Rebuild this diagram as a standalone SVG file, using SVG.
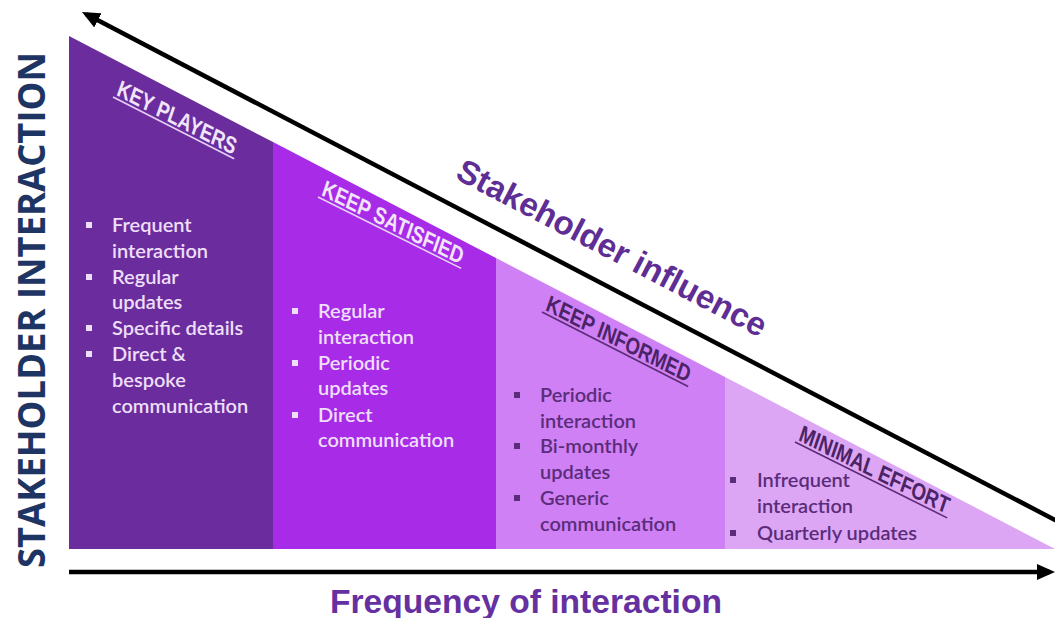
<svg xmlns="http://www.w3.org/2000/svg" width="1055" height="618" viewBox="0 0 1055 618">
  <style>
    .item { font-family: Lato, "Open Sans", "Liberation Sans", sans-serif; font-size: 20px; font-weight: 600; }
    .light { fill: #EEDFF9; }
    .dark { fill: #5A2C7A; }
    .lbl { font-family: "Liberation Sans", Arial, sans-serif; font-size: 23px; font-weight: bold; }
    .ul-light { stroke: #E6CFF5; stroke-width: 1.6; }
    .ul-dark { stroke: #5A2C78; stroke-width: 1.6; }
    .axis { stroke: #000; stroke-width: 4.5; fill: none; }
  </style>
  <defs>
    <marker id="arrow" markerUnits="userSpaceOnUse" viewBox="0 0 18 16" markerWidth="18" markerHeight="16" refX="13" refY="8" orient="auto">
      <path d="M0,0 L18,8 L0,16 z" fill="#000"/>
    </marker>
  </defs>
  <rect width="1055" height="618" fill="#fff"/>

  <g id="key-players">
    <polygon points="69,549 69,36 273,142 273,549" fill="#6B2D9E"/>
    <g transform="translate(113,97) rotate(27)">
      <line x1="0" y1="0" x2="136" y2="0" class="ul-light"/>
      <text x="2" y="-3" class="lbl" fill="#F1E5FA" transform="skewX(8)" textLength="132" lengthAdjust="spacingAndGlyphs">KEY PLAYERS</text>
    </g>
    <g class="item light">
      <rect x="86" y="222" width="6" height="6"/>
      <rect x="86" y="274" width="6" height="6"/>
      <rect x="86" y="325" width="6" height="6"/>
      <rect x="86" y="351" width="6" height="6"/>
      <text x="112" y="232">Frequent</text>
      <text x="112" y="258">interaction</text>
      <text x="112" y="284">Regular</text>
      <text x="112" y="309">updates</text>
      <text x="112" y="335">Specific details</text>
      <text x="112" y="361">Direct &amp;</text>
      <text x="112" y="387">bespoke</text>
      <text x="112" y="413">communication</text>
    </g>
  </g>

  <g id="keep-satisfied">
    <polygon points="273,549 273,142 496,258 496,549" fill="#A82BE8"/>
    <g transform="translate(318,197) rotate(26.5)">
      <line x1="0" y1="0" x2="160" y2="0" class="ul-light"/>
      <text x="2" y="-3" class="lbl" fill="#F1E5FA" transform="skewX(8)" textLength="156" lengthAdjust="spacingAndGlyphs">KEEP SATISFIED</text>
    </g>
    <g class="item light">
      <rect x="292" y="308" width="6" height="6"/>
      <rect x="292" y="360" width="6" height="6"/>
      <rect x="292" y="412" width="6" height="6"/>
      <text x="318" y="318">Regular</text>
      <text x="318" y="344">interaction</text>
      <text x="318" y="370">Periodic</text>
      <text x="318" y="395">updates</text>
      <text x="318" y="422">Direct</text>
      <text x="318" y="447">communication</text>
    </g>
  </g>

  <g id="keep-informed">
    <polygon points="496,549 496,258 725,377 725,549" fill="#CF80F5"/>
    <g transform="translate(542,312) rotate(27)">
      <line x1="0" y1="0" x2="164" y2="0" class="ul-dark"/>
      <text x="2" y="-3" class="lbl" fill="#4B2366" transform="skewX(8)" textLength="160" lengthAdjust="spacingAndGlyphs">KEEP INFORMED</text>
    </g>
    <g class="item dark">
      <rect x="514" y="392" width="6" height="6"/>
      <rect x="514" y="443" width="6" height="6"/>
      <rect x="514" y="495" width="6" height="6"/>
      <text x="540" y="402">Periodic</text>
      <text x="540" y="428">interaction</text>
      <text x="540" y="453">Bi-monthly</text>
      <text x="540" y="479">updates</text>
      <text x="540" y="505">Generic</text>
      <text x="540" y="531">communication</text>
    </g>
  </g>

  <g id="minimal-effort">
    <polygon points="725,549 725,377 1055,549" fill="#DCA6F5"/>
    <g transform="translate(795,442) rotate(26.5)">
      <line x1="0" y1="0" x2="170" y2="0" class="ul-dark"/>
      <text x="2" y="-3" class="lbl" fill="#4B2366" transform="skewX(8)" textLength="166" lengthAdjust="spacingAndGlyphs">MINIMAL EFFORT</text>
    </g>
    <g class="item dark">
      <rect x="730" y="477" width="6" height="6"/>
      <rect x="730" y="530" width="6" height="6"/>
      <text x="757" y="487">Infrequent</text>
      <text x="757" y="513">interaction</text>
      <text x="757" y="540">Quarterly updates</text>
    </g>
  </g>

  <g id="connectors">
    <line x1="1060" y1="522.6" x2="86.4" y2="14.3" class="axis" marker-end="url(#arrow)"/>
    <line x1="69" y1="572" x2="1050" y2="572" class="axis" marker-end="url(#arrow)"/>
  </g>

  <g id="labels">
    <text transform="translate(454,178) rotate(27.6)" font-family="'Liberation Sans', Arial, sans-serif" font-size="33" font-weight="bold" fill="#5F2E94" textLength="345" lengthAdjust="spacingAndGlyphs">Stakeholder influence</text>
    <text x="330" y="613" font-family="'Liberation Sans', Arial, sans-serif" font-size="34" font-weight="bold" fill="#6530A0" textLength="392" lengthAdjust="spacingAndGlyphs">Frequency of interaction</text>
    <text transform="translate(45,568) rotate(-90)" font-family="'Open Sans', 'Liberation Sans', sans-serif" font-size="37" font-weight="bold" fill="#1E3463" textLength="516" lengthAdjust="spacingAndGlyphs">STAKEHOLDER INTERACTION</text>
  </g>
</svg>
